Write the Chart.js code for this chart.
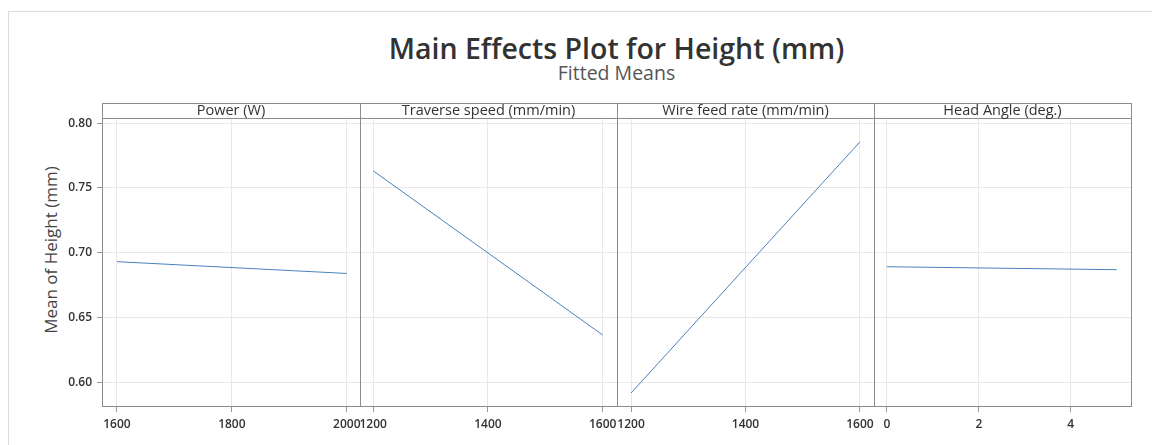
<!DOCTYPE html>
<html>
<head>
<meta charset="utf-8">
<script src="https://cdn.jsdelivr.net/npm/chart.js@4.4.1/dist/chart.umd.min.js"></script>
<style>
    body { margin: 0; background: #fff; width: 1152px; height: 445px; overflow: hidden; position: relative; font-family: "Open Sans", sans-serif; }
    .moldura { position: absolute; left: 8px; top: 11px; width: 1160px; height: 450px; border: 1px solid #dcdcdc; }
    #titulo { position: absolute; left: 0; width: 1233px; top: 31px; text-align: center; font-size: 28.5px; font-weight: 600; color: #333; line-height: 34px; }
    #subtitulo { position: absolute; left: 0; width: 1233px; top: 61px; text-align: center; font-size: 19.5px; color: #555; line-height: 24px; }
    #eixoY { position: absolute; left: 50px; top: 250px; transform: translate(-50%, -50%) rotate(-90deg); white-space: nowrap; font-size: 17px; color: #444; }
    canvas { position: absolute; top: 103px; }
</style>
</head>
<body>
<div class="moldura"></div>
<div id="titulo">Main Effects Plot for Height (mm)</div>
<div id="subtitulo">Fitted Means</div>
<div id="eixoY">Mean of Height (mm)</div>
<canvas id="painel1"></canvas>
<canvas id="painel2"></canvas>
<canvas id="painel3"></canvas>
<canvas id="painel4"></canvas>
<script>
// dados
const fatores = ["Power (W)", "Traverse speed (mm/min)", "Wire feed rate (mm/min)", "Head Angle (deg.)"];

const powerNiveis = [1600, 2000];
const powerMedias = [0.6931, 0.6840];
const powerTicks = [1600, 1800, 2000];

const speedNiveis = [1200, 1600];
const speedMedias = [0.7632, 0.6365];
const speedTicks = [1200, 1400, 1600];

const wireNiveis = [1200, 1600];
const wireMedias = [0.5917, 0.7856];
const wireTicks = [1200, 1400, 1600];

const anguloNiveis = [0, 5];
const anguloMedias = [0.6892, 0.6869];
const anguloTicks = [0, 2, 4];

const yTicks = [0.60, 0.65, 0.70, 0.75, 0.80];

const corGrelha = "#e8e8e8";
const corMoldura = "#8c8c8c";
const corLinha = "#4a80bd";
const fonteTicks = { family: "Open Sans", size: 12, weight: "600" };

const paineis = [
    { id: "painel1", titulo: fatores[0], niveis: powerNiveis, medias: powerMedias, ticks: powerTicks, esquerda: 102, largura: 258, min: 1574, max: 2023 },
    { id: "painel2", titulo: fatores[1], niveis: speedNiveis, medias: speedMedias, ticks: speedTicks, esquerda: 360, largura: 257, min: 1177, max: 1625 },
    { id: "painel3", titulo: fatores[2], niveis: wireNiveis, medias: wireMedias, ticks: wireTicks, esquerda: 617, largura: 257, min: 1175.5, max: 1624.5 },
    { id: "painel4", titulo: fatores[3], niveis: anguloNiveis, medias: anguloMedias, ticks: anguloTicks, esquerda: 874, largura: 257, min: -0.28, max: 5.31 }
];

const margem = 60;
const alturaCabecalho = 15;

const molduraPlugin = {
    id: "moldura",
    afterDraw: function (chart, args, opts) {
        const ctx = chart.ctx;
        const area = chart.chartArea;
        ctx.save();
        ctx.strokeStyle = corMoldura;
        ctx.lineWidth = 1;
        ctx.strokeRect(Math.round(area.left) + 0.5, Math.round(area.top - alturaCabecalho) + 0.5,
            Math.round(area.right - area.left), Math.round(area.bottom - area.top + alturaCabecalho));
        ctx.beginPath();
        ctx.moveTo(area.left, Math.round(area.top) + 0.5);
        ctx.lineTo(area.right, Math.round(area.top) + 0.5);
        ctx.stroke();
        ctx.fillStyle = "#333";
        ctx.font = "14.5px 'Open Sans'";
        ctx.textAlign = "center";
        ctx.textBaseline = "middle";
        ctx.fillText(opts.texto, (area.left + area.right) / 2, area.top - alturaCabecalho / 2 + 0.5);
        ctx.restore();
    }
};

paineis.forEach(function (p, i) {
    const canvas = document.getElementById(p.id);
    const primeiro = i === 0;
    canvas.style.left = (p.esquerda - margem) + "px";
    canvas.style.width = (p.largura + 2 * margem) + "px";
    canvas.style.height = "342px";

    new Chart(canvas, {
        type: "line",
        data: {
            datasets: [{
                data: p.niveis.map(function (x, k) { return { x: x, y: p.medias[k] }; }),
                borderColor: corLinha,
                borderWidth: 1,
                pointRadius: 0,
                tension: 0
            }]
        },
        options: {
            responsive: false,
            animation: false,
            layout: { padding: { left: primeiro ? margem - 42 : margem, right: margem, top: alturaCabecalho, bottom: 0 } },
            plugins: {
                legend: { display: false },
                tooltip: { enabled: false },
                moldura: { texto: p.titulo }
            },
            scales: {
                x: {
                    type: "linear",
                    min: p.min,
                    max: p.max,
                    afterBuildTicks: function (s) { s.ticks = p.ticks.map(function (v) { return { value: v }; }); },
                    afterFit: function (s) { s.height = 39; },
                    grid: { color: corGrelha, tickColor: "#999", tickLength: 6 },
                    border: { display: false },
                    ticks: {
                        color: "#333",
                        font: fonteTicks,
                        padding: 5,
                        maxRotation: 0,
                        callback: function (v) { return String(v); }
                    }
                },
                y: {
                    min: 0.5817,
                    max: 0.804,
                    afterBuildTicks: function (s) { s.ticks = yTicks.map(function (v) { return { value: v }; }); },
                    afterFit: function (s) { s.width = primeiro ? 42 : 0; },
                    grid: { color: corGrelha, tickColor: "#999", tickLength: 5, drawTicks: primeiro },
                    border: { display: false },
                    ticks: {
                        display: primeiro,
                        color: "#333",
                        font: fonteTicks,
                        padding: 5,
                        callback: function (v) { return v.toFixed(2); }
                    }
                }
            }
        },
        plugins: [molduraPlugin]
    });
});
</script>
</body>
</html>
